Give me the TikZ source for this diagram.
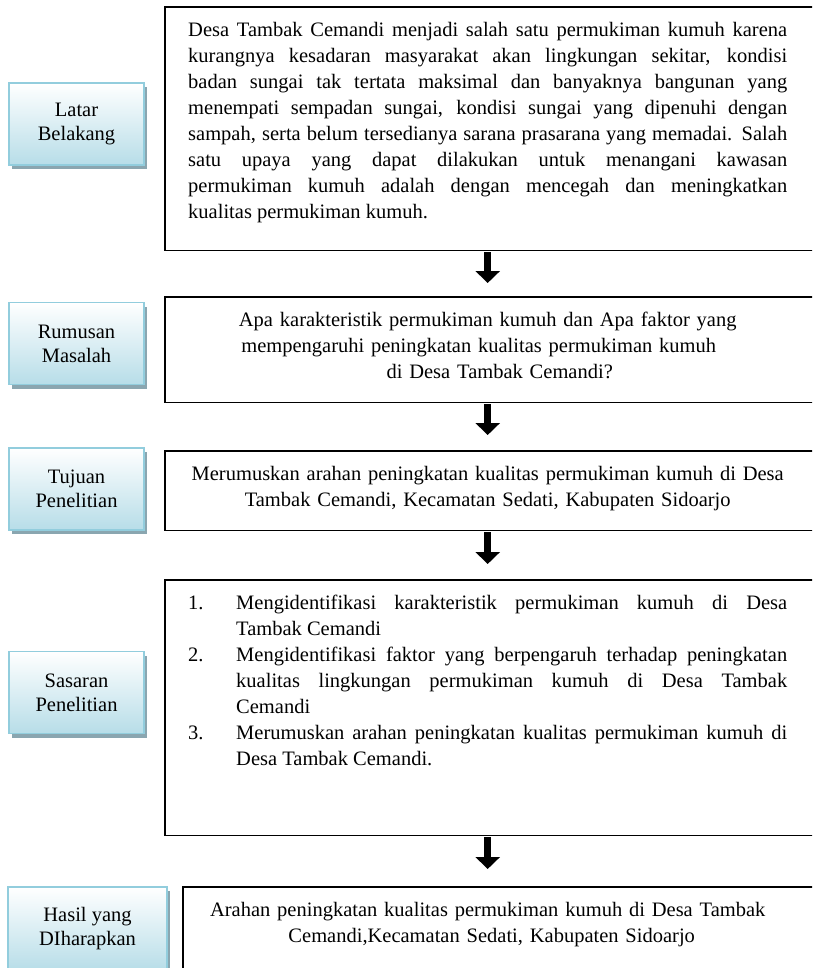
\documentclass[tikz,border=0pt]{standalone}
\usepackage{fontspec}
\setmainfont{Liberation Serif}
\usetikzlibrary{shadows,
        arrows.meta}
\usepackage{xcolor}
\definecolor{sideline}{RGB}{146,205,221}
\definecolor{sidefill}{RGB}{183,221,232}
\definecolor{sideshadow}{RGB}{138,166,176}
\newcommand{\butir}[2]{\hangindent=48pt\hangafter=1\noindent\makebox[48pt][l]{#1}#2\par}

\begin{document}
\begin{tikzpicture}[x=1pt,y=-1pt,
    sidebox/.style={rectangle,draw=sideline,line width=1.6pt,top color=white,bottom color=sidefill,
        minimum width=135pt,minimum height=82pt,align=center,
        font=\fontsize{20.5}{24}\selectfont,
        drop shadow={shadow xshift=3pt,shadow yshift=-4pt,fill=sideshadow,opacity=1}},
    isibox/.style={anchor=north west,inner xsep=23pt,inner ysep=16pt,text width=599pt,
        text height=13pt,font=\fontsize{20.5}{26}\selectfont},
    boxframe/.style={draw,line width=1.8pt},
    turun/.style={-{Triangle[width=24pt,length=12pt]},line width=7pt,shorten <=2pt}]
            \useasboundingbox[fill=white] (0,0) rectangle (812,968);
            \clip (0,0) rectangle (812,968);

            \node [sidebox] (latar) at (76.5,124) {Latar\\Belakang};
            \node [sidebox] (rumusan) at (76.5,343.5) {Rumusan\\Masalah};
            \node [sidebox] (tujuan) at (76.5,489) {Tujuan\\Penelitian};
            \node [sidebox] (sasaran) at (76.5,692.5) {Sasaran\\Penelitian};
            \node [sidebox,minimum width=159pt,minimum height=84pt] (hasil) at (87.5,929) {Hasil yang\\DIharapkan};

            \node [isibox,align=justify,text depth=198pt] (latarIsi) at (165,7) {\sloppy\hyphenpenalty=10000
                Desa Tambak Cemandi menjadi salah satu permukiman kumuh karena\linebreak
                kurangnya kesadaran masyarakat akan lingkungan sekitar, kondisi\linebreak
                badan sungai tak tertata maksimal dan banyaknya bangunan yang\linebreak
                menempati sempadan sungai, kondisi sungai yang dipenuhi dengan\linebreak
                sampah, serta belum tersedianya sarana prasarana yang memadai. Salah\linebreak
                satu upaya yang dapat dilakukan untuk menangani kawasan\linebreak
                permukiman kumuh adalah dengan mencegah dan meningkatkan\linebreak
                kualitas permukiman kumuh.};
            \node [isibox,align=center,text depth=60pt] (rumusanIsi) at (165,297) {Apa karakteristik permukiman kumuh dan Apa faktor yang\\
                \hspace*{-18pt}mempengaruhi peningkatan kualitas permukiman kumuh\\
                \hspace*{24pt}di Desa Tambak Cemandi?};
            \node [isibox,align=center,text depth=34pt] (tujuanIsi) at (165,451) {Merumuskan arahan peningkatan kualitas permukiman kumuh di Desa\\
                Tambak Cemandi, Kecamatan Sedati, Kabupaten Sidoarjo};
            \node [isibox,align=justify,text depth=210pt] (sasaranIsi) at (165,580) {\sloppy\hyphenpenalty=10000
                \butir{1.}{Mengidentifikasi karakteristik permukiman kumuh di Desa\linebreak Tambak Cemandi}%
                \butir{2.}{Mengidentifikasi faktor yang berpengaruh terhadap peningkatan\linebreak kualitas lingkungan permukiman kumuh di Desa Tambak\linebreak Cemandi}%
                \butir{3.}{Merumuskan arahan peningkatan kualitas permukiman kumuh di\linebreak Desa Tambak Cemandi.}};
            \node [isibox,align=center,text depth=58pt] (hasilIsi) at (165,887) {Arahan peningkatan kualitas permukiman kumuh di Desa Tambak\\
                \hspace*{8pt}Cemandi,Kecamatan Sedati, Kabupaten Sidoarjo};

            \draw [boxframe] (latarIsi.north west) rectangle ([xshift=20pt]latarIsi.south east);
            \draw [boxframe] (rumusanIsi.north west) rectangle ([xshift=20pt]rumusanIsi.south east);
            \draw [boxframe] (tujuanIsi.north west) rectangle ([xshift=20pt]tujuanIsi.south east);
            \draw [boxframe] (sasaranIsi.north west) rectangle ([xshift=20pt]sasaranIsi.south east);
            \draw [boxframe] ([xshift=18pt]hasilIsi.north west) rectangle ([xshift=20pt]hasilIsi.south east);

            \draw [turun,shorten >=14pt] (latarIsi.south) -- (rumusanIsi.north);
            \draw [turun,shorten >=16pt] (rumusanIsi.south) -- (tujuanIsi.north);
            \draw [turun,shorten >=16pt] (tujuanIsi.south) -- (sasaranIsi.north);
            \draw [turun,shorten >=18pt] (sasaranIsi.south) -- (sasaranIsi.south |- hasilIsi.north);
        \end{tikzpicture}
\end{document}
